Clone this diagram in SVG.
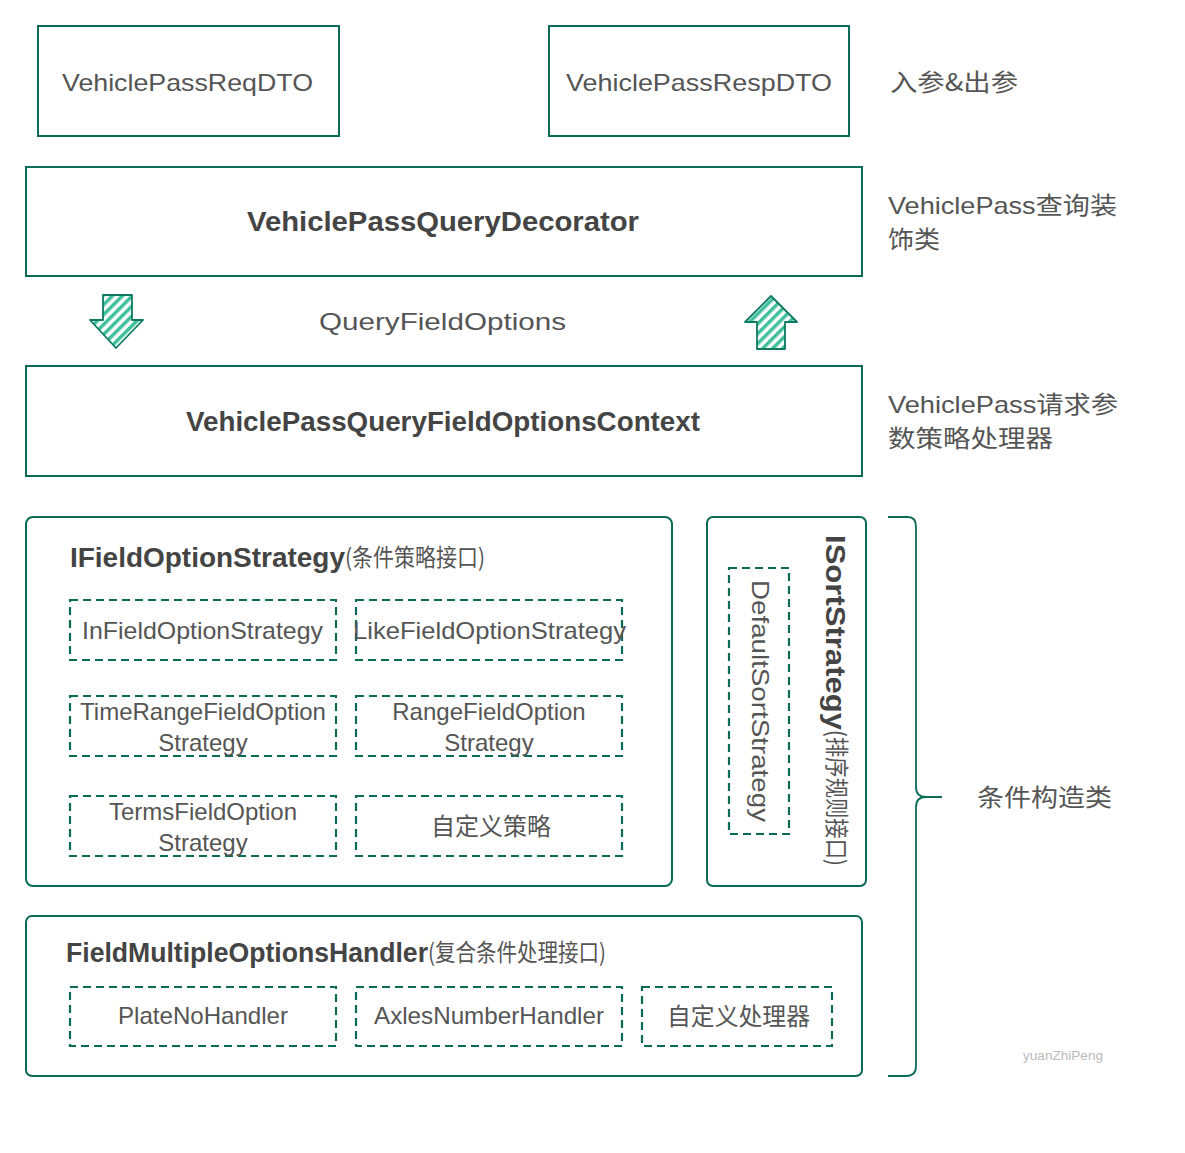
<svg xmlns="http://www.w3.org/2000/svg" width="1185" height="1153" viewBox="0 0 1185 1153">
<defs>
<style>
.box{fill:#fff;stroke:#0b6b57;stroke-width:2}
.dash{fill:none;stroke:#0b6b57;stroke-width:2.2;stroke-dasharray:8 5}
.t{font-family:"Liberation Sans","Noto Sans CJK SC",sans-serif;fill:#555;font-size:24px}
.b{font-weight:bold;font-size:27px;fill:#444}
.m{text-anchor:middle}
.c{font-family:"Noto Sans CJK SC",sans-serif;fill:#555}
.arrow{fill:url(#hatch);stroke:#0e7a62;stroke-width:1.8;stroke-linejoin:round}
</style>
<pattern id="hatch" width="7" height="7" patternUnits="userSpaceOnUse" patternTransform="rotate(45)">
<rect width="7" height="7" fill="#fff"/>
<rect width="3.5" height="7" fill="#3fbf9d"/>
</pattern>
</defs>

<g id="req"><rect class="box" x="38" y="26" width="301" height="110"/><text class="t" x="62" y="91" textLength="251" lengthAdjust="spacingAndGlyphs">VehiclePassReqDTO</text></g>
<g id="resp"><rect class="box" x="549" y="26" width="300" height="110"/><text class="t" x="566" y="91" textLength="266" lengthAdjust="spacingAndGlyphs">VehiclePassRespDTO</text></g>
<g id="lbl1"><text class="t c" x="890" y="91" textLength="128" lengthAdjust="spacingAndGlyphs">入参&amp;出参</text></g>

<g id="decorator"><rect class="box" x="26" y="167" width="836" height="109"/><text class="t b" x="247" y="231" textLength="392" lengthAdjust="spacingAndGlyphs">VehiclePassQueryDecorator</text></g>
<g id="lbl2"><text class="t" x="888" y="214" textLength="229" lengthAdjust="spacingAndGlyphs">VehiclePass<tspan class="c">查询装</tspan></text><text class="t c" x="888" y="248" textLength="52" lengthAdjust="spacingAndGlyphs">饰类</text></g>

<g id="arrow-down"><path class="arrow" d="M103,295 L132,295 L132,320 L143,320 L116,348 L90,320 L103,320 Z"/></g>
<g id="qfo"><text class="t" x="319" y="330" textLength="247" lengthAdjust="spacingAndGlyphs">QueryFieldOptions</text></g>
<g id="arrow-up"><path class="arrow" d="M771,296 L797,322 L785,322 L785,349 L757,349 L757,322 L745,322 Z"/></g>

<g id="context"><rect class="box" x="26" y="366" width="836" height="110"/><text class="t b" x="186" y="431" textLength="514" lengthAdjust="spacingAndGlyphs">VehiclePassQueryFieldOptionsContext</text></g>
<g id="lbl3"><text class="t" x="888" y="413" textLength="230" lengthAdjust="spacingAndGlyphs">VehiclePass<tspan class="c">请求参</tspan></text><text class="t c" x="888" y="447" textLength="165" lengthAdjust="spacingAndGlyphs">数策略处理器</text></g>

<g id="ifield">
<rect class="box" x="26" y="517" width="646" height="369" rx="7"/>
<text class="t b" x="70" y="567" font-size="27" textLength="275" lengthAdjust="spacingAndGlyphs">IFieldOptionStrategy</text>
<text class="t c" x="345" y="566" font-size="18" textLength="140" lengthAdjust="spacingAndGlyphs">(条件策略接口)</text>
</g>
<g id="in"><rect class="dash" x="70" y="600" width="266" height="60"/><text class="t" x="82" y="639" textLength="241" lengthAdjust="spacingAndGlyphs">InFieldOptionStrategy</text></g>
<g id="like"><rect class="dash" x="356" y="600" width="266" height="60"/><text class="t" x="353" y="639" textLength="273" lengthAdjust="spacingAndGlyphs">LikeFieldOptionStrategy</text></g>
<g id="timerange"><rect class="dash" x="70" y="696" width="266" height="60"/><text class="t m" x="203" y="720">TimeRangeFieldOption</text><text class="t m" x="203" y="751">Strategy</text></g>
<g id="range"><rect class="dash" x="356" y="696" width="266" height="60"/><text class="t m" x="489" y="720">RangeFieldOption</text><text class="t m" x="489" y="751">Strategy</text></g>
<g id="terms"><rect class="dash" x="70" y="796" width="266" height="60"/><text class="t m" x="203" y="820">TermsFieldOption</text><text class="t m" x="203" y="851">Strategy</text></g>
<g id="custom-strategy"><rect class="dash" x="356" y="796" width="266" height="60"/><text class="t c m" x="491" y="835" textLength="120" lengthAdjust="spacingAndGlyphs">自定义策略</text></g>

<g id="isort">
<rect class="box" x="707" y="517" width="159" height="369" rx="6"/>
<text class="t b" transform="translate(826,535) rotate(90)" font-size="27" textLength="195" lengthAdjust="spacingAndGlyphs">ISortStrategy</text>
<text class="t c" transform="translate(828,730) rotate(90)" font-size="17" textLength="136" lengthAdjust="spacingAndGlyphs">(排序规则接口)</text>
</g>
<g id="defaultsort"><rect class="dash" x="729" y="568" width="60" height="266"/><text class="t" transform="translate(752,580) rotate(90)" textLength="242" lengthAdjust="spacingAndGlyphs">DefaultSortStrategy</text></g>

<g id="multi">
<rect class="box" x="26" y="916" width="836" height="160" rx="6"/>
<text class="t b" x="66" y="962" font-size="27" textLength="362" lengthAdjust="spacingAndGlyphs">FieldMultipleOptionsHandler</text>
<text class="t c" x="428" y="961" font-size="18" textLength="178" lengthAdjust="spacingAndGlyphs">(复合条件处理接口)</text>
</g>
<g id="plate"><rect class="dash" x="70" y="987" width="266" height="59"/><text class="t" x="118" y="1024" textLength="170" lengthAdjust="spacingAndGlyphs">PlateNoHandler</text></g>
<g id="axles"><rect class="dash" x="356" y="987" width="266" height="59"/><text class="t" x="374" y="1024" textLength="230" lengthAdjust="spacingAndGlyphs">AxlesNumberHandler</text></g>
<g id="custom-handler"><rect class="dash" x="642" y="987" width="190" height="59"/><text class="t c" x="667" y="1025" textLength="143" lengthAdjust="spacingAndGlyphs">自定义处理器</text></g>

<g id="connectors">
<path d="M888,517 L908,517 Q916,517 916,527 L916,787 Q916,797 926,797 L942,797 M926,797 Q916,797 916,807 L916,1066 Q916,1076 906,1076 L888,1076" fill="none" stroke="#0b6b57" stroke-width="1.8"/>
</g>
<g id="lbl4"><text class="t c" x="977" y="806" font-size="26" textLength="135" lengthAdjust="spacingAndGlyphs">条件构造类</text></g>
<g id="watermark"><text x="1023" y="1060" font-family="Liberation Sans,sans-serif" font-size="12" fill="#bbb" textLength="80" lengthAdjust="spacingAndGlyphs">yuanZhiPeng</text></g>
</svg>
